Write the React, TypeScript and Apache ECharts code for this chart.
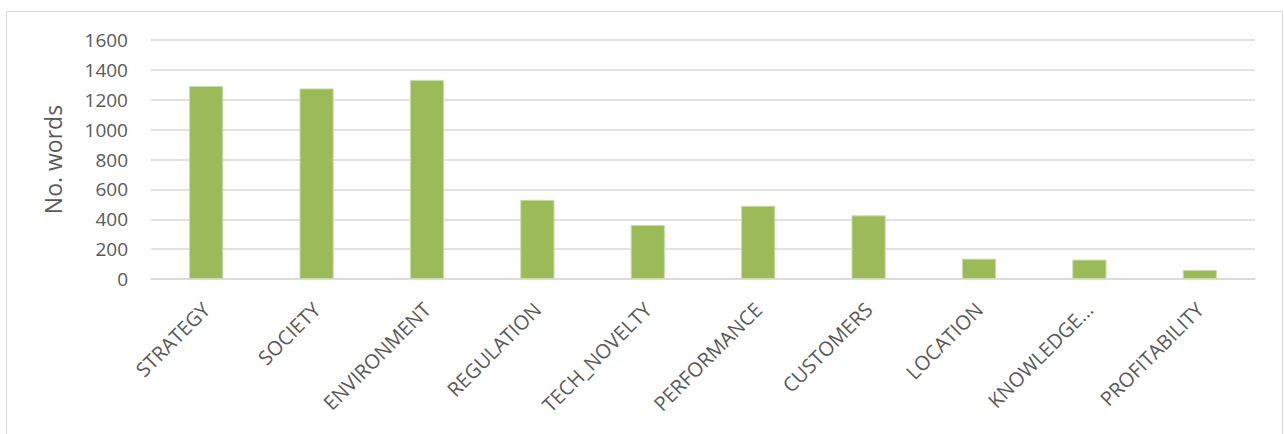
import React, { useEffect, useRef } from "react";
import * as echarts from "echarts";

const categories = [
  "STRATEGY",
  "SOCIETY",
  "ENVIRONMENT",
  "REGULATION",
  "TECH_NOVELTY",
  "PERFORMANCE",
  "CUSTOMERS",
  "LOCATION",
  "KNOWLEDGE...",
  "PROFITABILITY",
];
const words = [1292, 1276, 1333, 530, 362, 490, 426, 136, 130, 60];
const yAxisName = "No. words";

export default function App() {
  const ref = useRef<HTMLDivElement>(null);
  useEffect(() => {
    document.body.style.margin = "0";
    const chart = echarts.init(ref.current!, null, { renderer: "svg" });
    const font = "'Open Sans', 'Liberation Sans', sans-serif";
    chart.setOption({
      animation: false,
      backgroundColor: "#ffffff",
      textStyle: { fontFamily: font },
      graphic: [
        {
          type: "rect",
          shape: { x: 6.5, y: 11.5, width: 1276, height: 440 },
          style: { fill: "none", stroke: "#d9d9d9", lineWidth: 1 },
          silent: true,
        },
      ],
      grid: { left: 151, right: 29, top: 40, bottom: 155 },
      xAxis: {
        type: "category",
        data: categories,
        axisLine: { lineStyle: { color: "#d9d9d9", width: 1.5 } },
        axisTick: { show: false },
        axisLabel: {
          rotate: 45,
          interval: 0,
          color: "#595959",
          fontSize: 20,
          fontFamily: font,
          margin: 27,
        },
      },
      yAxis: {
        type: "value",
        min: 0,
        max: 1600,
        interval: 200,
        name: yAxisName,
        nameLocation: "middle",
        nameGap: 87,
        nameTextStyle: { color: "#595959", fontSize: 23, fontFamily: font },
        axisLine: { show: false },
        axisTick: { show: false },
        axisLabel: {
          color: "#595959",
          fontSize: 19,
          fontFamily: font,
          margin: 23,
          formatter: (v: number) => String(v),
        },
        splitLine: { lineStyle: { color: "#d9d9d9", width: 1.5 } },
      },
      series: [
        {
          type: "bar",
          data: words,
          barWidth: "31%",
          itemStyle: { color: "#9bbb59", borderColor: "#c9dcaa", borderWidth: 1 },
        },
      ],
    });
    return () => chart.dispose();
  }, []);
  return (
    <div
      ref={ref}
      style={{ position: "fixed", left: 0, top: 0, width: 1284, height: 434 }}
    />
  );
}
